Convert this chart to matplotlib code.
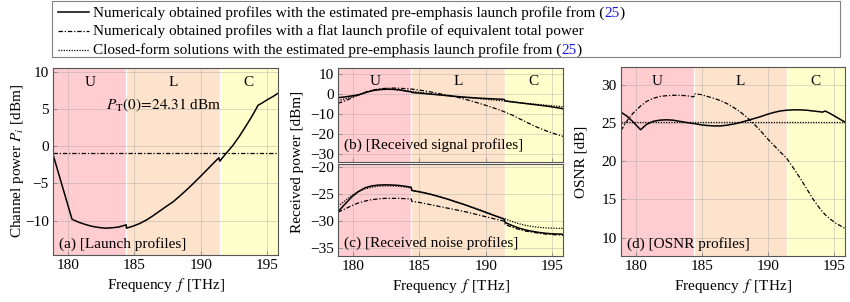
import matplotlib
matplotlib.use("Agg")
import matplotlib.pyplot as plt
import matplotlib.transforms as mtransforms
from matplotlib.lines import Line2D
from matplotlib.patches import Rectangle
from matplotlib.offsetbox import AnchoredOffsetbox, HPacker, VPacker, TextArea, DrawingArea

plt.rcParams['font.family'] = ['Liberation Serif', 'DejaVu Serif']
plt.rcParams['mathtext.fontset'] = 'stix'
plt.rcParams['font.size'] = 11

# band edges [THz]
band_names = ['U', 'L', 'C']
band_edges = [178.87, 184.4, 191.4, 195.8]
band_colors = ['#ffccd0', '#fde3cc', '#ffffcc']

# (a) launch profiles
f_a = [178.87, 180.3, 180.8, 181.3, 181.8, 182.3, 182.8, 183.3, 183.8, 184.38,
       184.4, 184.9, 185.4, 185.9, 186.4, 186.9, 187.4, 187.9, 188.4, 188.9,
       189.4, 189.9, 190.4, 190.9, 191.35, 191.42, 191.9, 192.4, 192.9, 193.4,
       193.9, 194.3, 194.6, 195.0, 195.4, 195.8]
p_launch = [-1.1, -9.8, -10.2, -10.5, -10.75, -10.9, -11.0, -10.95, -10.85, -10.55,
            -11.0, -10.72, -10.37, -9.9, -9.33, -8.7, -8.07, -7.47, -6.7, -5.9,
            -5.05, -4.17, -3.27, -2.35, -1.55, -2.0, -0.95, 0.1, 1.35, 2.75,
            4.2, 5.5, 5.8, 6.25, 6.65, 7.1]
f_flat = [178.87, 195.8]
p_flat = [-0.95, -0.95]
pt_text = r'$P_{\mathrm{T}}(0)\!=\!24.31$ dBm'

# (b) received signal
f_b = [178.87, 179.5, 180.0, 180.45, 181.0, 181.5, 182.0, 182.5, 183.0, 183.5,
       184.0, 184.38, 184.42, 185.0, 185.5, 186.0, 186.5, 187.0, 187.5, 188.0,
       188.5, 189.0, 189.5, 190.0, 190.5, 191.0, 191.38, 191.45, 192.0, 192.5,
       193.0, 193.5, 194.0, 194.5, 195.0, 195.5, 195.8]
sig_num = [-2.0, -1.5, -1.0, -0.5, 0.7, 1.6, 2.1, 2.3, 2.2, 1.9,
           1.3, 0.9, 0.6, 0.3, 0.0, -0.3, -0.6, -0.9, -1.2, -1.5,
           -1.75, -2.0, -2.2, -2.4, -2.55, -2.7, -2.85, -3.6, -4.1, -4.5,
           -4.9, -5.3, -5.7, -6.1, -6.6, -7.1, -7.5]
sig_flat = [-4.8, -3.3, -1.8, -0.5, 0.9, 1.8, 2.4, 2.7, 2.8, 2.7,
            2.5, 2.3, 2.3, 1.8, 1.3, 0.7, 0.0, -0.6, -1.2, -2.0,
            -2.9, -3.8, -4.8, -5.8, -6.9, -8.0, -9.0, -9.2, -10.7, -12.4,
            -14.0, -15.6, -17.1, -18.4, -19.6, -20.6, -21.2]
sig_cf = [-3.5, -2.4, -1.5, -0.4, 0.8, 1.5, 1.9, 2.1, 2.1, 1.9,
          1.5, 1.2, 1.2, 0.7, 0.3, -0.1, -0.5, -0.9, -1.3, -1.6,
          -1.9, -2.2, -2.5, -2.8, -3.1, -3.4, -3.6, -3.6, -4.0, -4.4,
          -4.8, -5.1, -5.4, -5.7, -6.0, -6.3, -6.5]

# (c) received noise
f_c = [178.87, 179.4, 179.9, 180.4, 180.9, 181.4, 181.9, 182.4, 182.9, 183.4,
       183.9, 184.38, 184.42, 185.0, 185.5, 186.0, 186.5, 187.0, 187.5, 188.0,
       188.5, 189.0, 189.5, 190.0, 190.5, 191.0, 191.38, 191.45, 192.0, 192.5,
       193.0, 193.5, 194.0, 194.5, 195.0, 195.5, 195.8]
noise_num = [-28.3, -26.9, -25.6, -24.6, -23.9, -23.55, -23.4, -23.35, -23.38, -23.45,
             -23.6, -23.8, -24.4, -24.65, -24.9, -25.2, -25.55, -25.9, -26.3, -26.7,
             -27.1, -27.55, -28.0, -28.45, -28.9, -29.35, -29.7, -30.3, -30.9, -31.35,
             -31.7, -31.95, -32.15, -32.3, -32.4, -32.45, -32.5]
noise_flat = [-28.4, -27.8, -27.2, -26.7, -26.35, -26.1, -25.95, -25.85, -25.85, -25.85,
              -25.9, -25.95, -26.4, -26.6, -26.85, -27.1, -27.35, -27.6, -27.85, -28.1,
              -28.35, -28.65, -28.95, -29.25, -29.55, -29.85, -30.05, -30.7, -31.2, -31.6,
              -31.9, -32.1, -32.3, -32.45, -32.55, -32.6, -32.65]
noise_cf = [-27.3, -26.3, -25.3, -24.6, -24.1, -23.8, -23.6, -23.55, -23.55, -23.6,
            -23.75, -23.95, -24.35, -24.6, -24.9, -25.2, -25.55, -25.9, -26.3, -26.7,
            -27.1, -27.5, -27.95, -28.4, -28.85, -29.3, -29.6, -29.65, -30.15, -30.55,
            -30.85, -31.05, -31.2, -31.3, -31.35, -31.4, -31.4]

# (d) OSNR
f_d = [178.87, 179.3, 179.8, 180.35, 180.8, 181.3, 181.8, 182.3, 182.8, 183.3,
       183.8, 184.38, 184.42, 184.9, 185.4, 185.9, 186.4, 186.9, 187.4, 187.9,
       188.4, 188.9, 189.4, 189.9, 190.4, 190.9, 191.38, 191.9, 192.4, 192.9,
       193.4, 193.9, 194.1, 194.3, 194.7, 195.1, 195.5, 195.8]
osnr_num = [26.4, 25.9, 25.1, 24.1, 24.8, 25.2, 25.35, 25.4, 25.35, 25.2,
            25.05, 24.9, 24.9, 24.75, 24.65, 24.6, 24.6, 24.7, 24.85, 25.05,
            25.3, 25.55, 25.8, 26.1, 26.35, 26.55, 26.65, 26.7, 26.7, 26.65,
            26.55, 26.45, 26.4, 26.55, 26.2, 25.8, 25.4, 25.1]
osnr_flat = [24.0, 25.2, 26.3, 27.2, 27.8, 28.2, 28.45, 28.55, 28.6, 28.6,
             28.55, 28.4, 28.8, 28.7, 28.45, 28.2, 27.9, 27.5, 27.0, 26.4,
             25.7, 24.9, 24.0, 23.0, 22.1, 21.2, 20.4, 19.1, 17.8, 16.4,
             15.0, 13.8, 13.4, 13.0, 12.4, 11.9, 11.5, 11.2]
osnr_cf = [25.1, 25.1]

# legend rows: (text, colour) pieces
cite_color = '#1a1ae6'
legend_rows = [
    [('Numericaly obtained profiles with the estimated pre-emphasis launch profile from (', 'black'),
     ('25', cite_color), (')', 'black')],
    [('Numericaly obtained profiles with a flat launch profile of equivalent total power', 'black')],
    [('Closed-form solutions with the estimated pre-emphasis launch profile from (', 'black'),
     ('25', cite_color), (')', 'black')],
]

sty_num = dict(color='black', lw=1.1, ls='-')
sty_flat = dict(color='black', lw=0.9, ls=(0, (3.5, 1.5, 1, 1.5)))
sty_cf = dict(color='black', lw=0.9, ls=(0, (1, 1.1)))

W, H = 850, 302
fig = plt.figure(figsize=(W / 100, H / 100), dpi=100)


def px_axes(l, t, r, b):
    return fig.add_axes([l / W, 1 - b / H, (r - l) / W, (b - t) / H])


ax_a = px_axes(53, 68, 278, 255)
ax_b = px_axes(338, 68, 563, 162)
ax_c = px_axes(338, 164, 563, 256)
ax_d = px_axes(621, 67, 845, 256)

xlab = r'Frequency $\,f\,$ [THz]'


def style(ax, ylim, yticks, bands_y=None, xlabels=True):
    ax.set_xlim(band_edges[0], band_edges[-1])
    ax.set_ylim(*ylim)
    ax.set_yticks(yticks)
    ax.set_xticks([180, 185, 190, 195])
    ax.set_axisbelow(True)
    ax.grid(True, color='#a8a8a8', lw=0.5, alpha=0.6)
    for i in range(3):
        ax.axvspan(band_edges[i], band_edges[i + 1], color=band_colors[i], lw=0, zorder=0.1)
    for e in band_edges[1:-1]:
        ax.axvline(e, color='white', lw=1.0, zorder=0.2)
    if bands_y is not None:
        tr = mtransforms.blended_transform_factory(ax.transData, ax.transAxes)
        for i, n in enumerate(band_names):
            ax.text((band_edges[i] + band_edges[i + 1]) / 2, bands_y, n, transform=tr,
                    ha='center', va='center')
    for s in ax.spines.values():
        s.set_color('#555555')
        s.set_linewidth(0.8)
    ax.tick_params(direction='in', length=3, width=0.5, color='#777777', pad=3)
    if xlabels:
        ax.set_xlabel(xlab, labelpad=3)
    else:
        ax.tick_params(labelbottom=False)


# (a)
style(ax_a, (-14.6, 10.5), [-10, -5, 0, 5, 10], 0.925)
ax_a.plot(f_a, p_launch, **sty_num)
ax_a.plot(f_flat, p_flat, **sty_flat)
ax_a.text(0.49, 0.80, pt_text, transform=ax_a.transAxes, ha='center', va='center')
ax_a.text(0.025, 0.06, '(a) [Launch profiles]', transform=ax_a.transAxes, ha='left', va='center')
ax_a.set_ylabel('Channel power $P_i$ [dBm]')
ax_a.yaxis.set_label_coords(-0.12, 0.5)

# (b)
style(ax_b, (-34, 12.8), [-30, -20, -10, 0, 10], 0.86, xlabels=False)
ax_b.plot(f_b, sig_cf, **sty_cf)
ax_b.plot(f_b, sig_flat, **sty_flat)
ax_b.plot(f_b, sig_num, **sty_num)
ax_b.text(0.025, 0.18, '(b) [Received signal profiles]', transform=ax_b.transAxes, ha='left', va='center')

# (c)
style(ax_c, (-36.5, -19.5), [-35, -30, -25, -20])
ax_c.plot(f_c, noise_cf, **sty_cf)
ax_c.plot(f_c, noise_flat, **sty_flat)
ax_c.plot(f_c, noise_num, **sty_num)
ax_c.text(0.025, 0.14, '(c) [Received noise profiles]', transform=ax_c.transAxes, ha='left', va='center')
fig.text(297 / W, 1 - 162 / H, 'Received power [dBm]', rotation=90, ha='center', va='center')

# (d)
style(ax_d, (7.6, 32.3), [10, 15, 20, 25, 30], 0.924)
ax_d.plot(f_d, osnr_num, **sty_num)
ax_d.plot(f_d, osnr_flat, **sty_flat)
ax_d.plot(f_flat, osnr_cf, **sty_cf)
ax_d.text(0.027, 0.066, '(d) [OSNR profiles]', transform=ax_d.transAxes, ha='left', va='center')
ax_d.set_ylabel('OSNR [dB]')
ax_d.yaxis.set_label_coords(-0.15, 0.5)

# legend (frame + packed rows so the citation can be blue)
fig.add_artist(Rectangle((52 / W, 1 - 57 / H), (840 - 52) / W, 56 / H, transform=fig.transFigure,
                         facecolor='white', edgecolor='#808080', lw=0.8, zorder=5))
rows = []
for sty, pieces in zip([sty_num, sty_flat, sty_cf], legend_rows):
    da = DrawingArea(22, 8, 0, 0)
    da.add_artist(Line2D([0, 22], [3.2, 3.2], **sty))
    txt = HPacker(children=[TextArea(s, textprops=dict(color=c, fontsize=10.95)) for s, c in pieces],
                  sep=0, pad=0, align='baseline')
    rows.append(HPacker(children=[da, txt], sep=3, pad=0, align='baseline'))
box = VPacker(children=rows, sep=3.3, pad=0, align='left')
anch = AnchoredOffsetbox(loc='upper left', child=box, pad=0, borderpad=0, frameon=False,
                         bbox_to_anchor=(58 / W, 1 - 5.5 / H), bbox_transform=fig.transFigure)
anch.set_zorder(6)
fig.add_artist(anch)

fig.savefig('out.png', dpi=100)
